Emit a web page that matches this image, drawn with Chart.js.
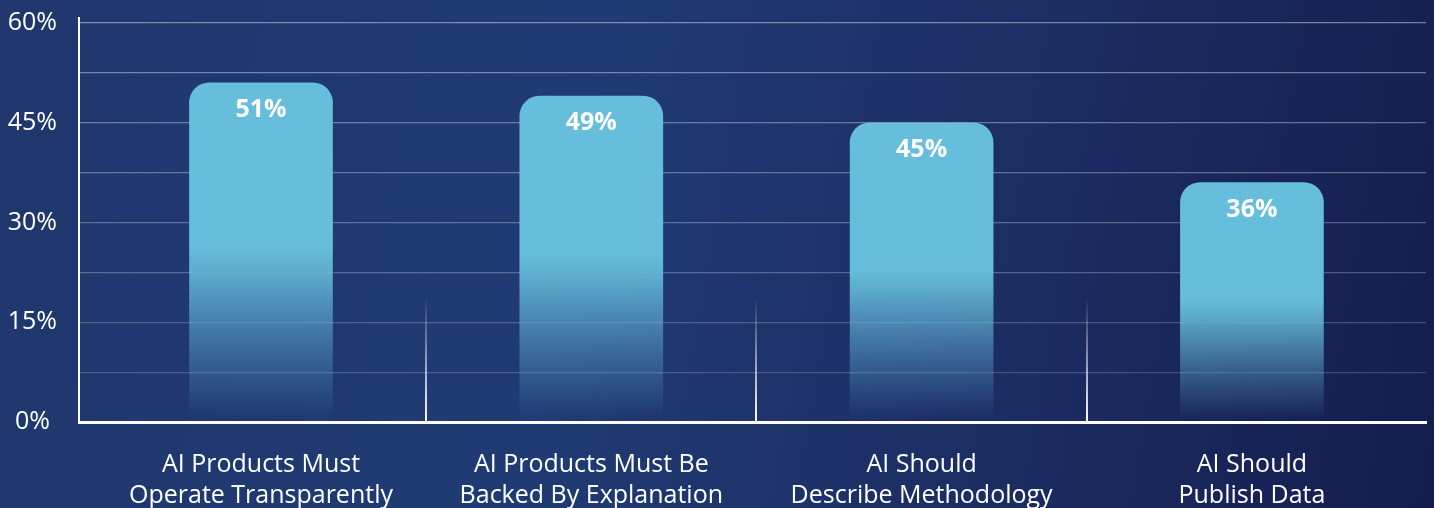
<!DOCTYPE html>
<html>
<head>
<meta charset="utf-8">
<script src="https://cdn.jsdelivr.net/npm/chart.js@4"></script>
<style>
  html, body { margin: 0; padding: 0; }
  body {
    width: 1434px; height: 508px; overflow: hidden;
    background: linear-gradient(100deg, #1f376d 0%, #203b73 40%, #1b2c62 72%, #151d4f 100%);
  }
  canvas { display: block; }
</style>
</head>
<body>
<canvas id="chart" width="1434" height="508"></canvas>
<script>
const CATEGORIES = [
  ['AI Products Must', 'Operate Transparently'],
  ['AI Products Must Be', 'Backed By Explanation'],
  ['AI Should', 'Describe Methodology'],
  ['AI Should', 'Publish Data'],
];
const VALUES = [51, 49, 45, 36];
const Y_TICKS = [0, 7.5, 15, 22.5, 30, 37.5, 45, 52.5, 60];

const BAR_TOP = '#67bddc';
const FONT = '"Open Sans", "Liberation Sans", sans-serif';

// each bar is solid light blue on top and turns see-through over its lower half
function barFill(ctx) {
  const chart = ctx.chart;
  if (!chart.chartArea || !ctx.raw) return BAR_TOP;
  const y = chart.scales.y;
  const top = y.getPixelForValue(ctx.raw.y);
  const bottom = y.getPixelForValue(0);
  const g = chart.ctx.createLinearGradient(0, top, 0, bottom);
  g.addColorStop(0, 'rgba(103,189,220,1)');
  g.addColorStop(0.49, 'rgba(102,188,219,1)');
  g.addColorStop(0.56, 'rgba(100,184,216,0.9)');
  g.addColorStop(0.8, 'rgba(96,172,210,0.4)');
  g.addColorStop(0.98, 'rgba(96,170,210,0.02)');
  g.addColorStop(1, 'rgba(96,170,210,0)');
  return g;
}

// thin white dividers between the categories, fading upward
const dividers = {
  id: 'dividers',
  beforeDatasetsDraw(chart) {
    const { ctx, scales: { x, y } } = chart;
    const bottom = y.getPixelForValue(0);
    const top = bottom - 125;
    ctx.save();
    [0.5, 1.5, 2.5].forEach(v => {
      const px = Math.round(x.getPixelForValue(v));
      const g = ctx.createLinearGradient(0, top, 0, bottom);
      g.addColorStop(0, 'rgba(255,255,255,0)');
      g.addColorStop(1, 'rgba(255,255,255,1)');
      ctx.fillStyle = g;
      ctx.fillRect(px - 1, top, 2, bottom - top);
    });
    ctx.restore();
  }
};

// value label inside the top of each bar
const valueLabels = {
  id: 'valueLabels',
  afterDatasetsDraw(chart) {
    const { ctx } = chart;
    const meta = chart.getDatasetMeta(0);
    ctx.save();
    ctx.fillStyle = '#ffffff';
    ctx.font = 'bold 25px ' + FONT;
    ctx.textAlign = 'center';
    ctx.textBaseline = 'middle';
    meta.data.forEach((bar, i) => {
      ctx.fillText(VALUES[i] + '%', bar.x, bar.y + 27);
    });
    ctx.restore();
  }
};

new Chart(document.getElementById('chart'), {
  type: 'bar',
  data: {
    datasets: [{
      data: VALUES.map((v, i) => ({ x: i, y: v })),
      backgroundColor: barFill,
      borderWidth: 0,
      borderRadius: { topLeft: 20, topRight: 20, bottomLeft: 0, bottomRight: 0 },
      borderSkipped: 'start',
      barThickness: 143,
    }]
  },
  plugins: [dividers, valueLabels],
  options: {
    responsive: false,
    animation: false,
    devicePixelRatio: 1,
    layout: { padding: { top: 18, right: 8, left: 0, bottom: 0 } },
    plugins: { legend: { display: false }, tooltip: { enabled: false } },
    scales: {
      x: {
        type: 'linear',
        offset: false,
        min: -0.551,
        max: 3.527,
        afterBuildTicks: scale => { scale.ticks = CATEGORIES.map((c, i) => ({ value: i })); },
        afterFit: scale => { scale.height = 86; },
        grid: { display: false },
        border: { display: true, color: '#ffffff', width: 3 },
        ticks: {
          autoSkip: false,
          maxRotation: 0,
          padding: 19,
          color: '#ffffff',
          font: { family: FONT, size: 25, lineHeight: 1.25 },
          callback: v => CATEGORIES[v],
        }
      },
      y: {
        min: 0,
        max: 60.75,
        afterBuildTicks: scale => { scale.ticks = Y_TICKS.map(value => ({ value })); },
        afterFit: scale => {
          scale.width = 79;
          scale.paddingTop = 0;
          scale.paddingBottom = 0;
        },
        grid: {
          drawTicks: false,
          color: ctx => {
            if (ctx.tick && ctx.tick.value === 0) return 'rgba(0,0,0,0)';
            const v = ctx.tick ? ctx.tick.value : 0;
            return 'rgba(255,255,255,' + (0.14 + v / 60 * 0.28).toFixed(2) + ')';
          },
          lineWidth: 1.2,
        },
        border: { display: true, color: '#ffffff', width: 2 },
        ticks: {
          padding: 22,
          crossAlign: 'center',
          color: '#ffffff',
          font: { family: FONT, size: 25 },
          callback: v => (v % 15 === 0 ? v + '%' : ''),
        }
      }
    }
  }
});
</script>
</body>
</html>
